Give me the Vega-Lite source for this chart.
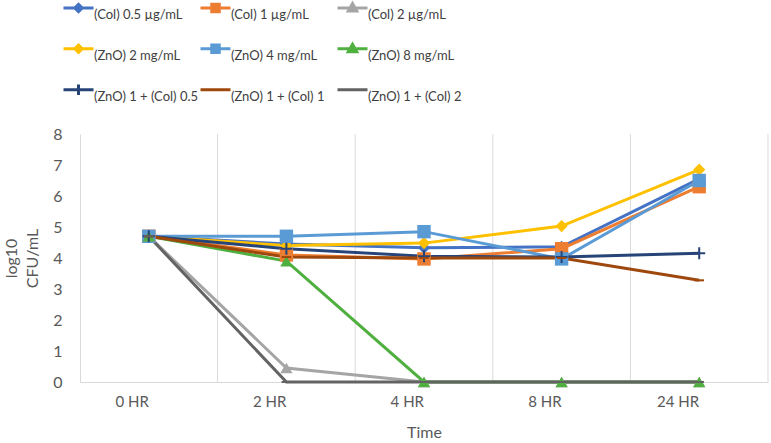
{
  "$schema": "https://vega.github.io/schema/vega-lite/v6.json",
  "width": 688,
  "height": 248,
  "autosize": {"type": "none"},
  "padding": {"left": 80, "top": 134, "right": 3, "bottom": 61},
  "background": "white",
  "config": {"font": "Lato", "view": {"stroke": null}},
  "datasets": {
    "times": [{"time": "0 HR"}, {"time": "2 HR"}, {"time": "4 HR"}, {"time": "8 HR"}, {"time": "24 HR"}],
    "series": [
      {"series": "(Col) 0.5 µg/mL", "time": "0 HR", "value": 4.7},
      {"series": "(Col) 0.5 µg/mL", "time": "2 HR", "value": 4.45},
      {"series": "(Col) 0.5 µg/mL", "time": "4 HR", "value": 4.33},
      {"series": "(Col) 0.5 µg/mL", "time": "8 HR", "value": 4.36},
      {"series": "(Col) 0.5 µg/mL", "time": "24 HR", "value": 6.55},
      {"series": "(Col) 1 µg/mL", "time": "0 HR", "value": 4.7},
      {"series": "(Col) 1 µg/mL", "time": "2 HR", "value": 4.1},
      {"series": "(Col) 1 µg/mL", "time": "4 HR", "value": 3.97},
      {"series": "(Col) 1 µg/mL", "time": "8 HR", "value": 4.3},
      {"series": "(Col) 1 µg/mL", "time": "24 HR", "value": 6.3},
      {"series": "(Col) 2 µg/mL", "time": "0 HR", "value": 4.7},
      {"series": "(Col) 2 µg/mL", "time": "2 HR", "value": 0.45},
      {"series": "(Col) 2 µg/mL", "time": "4 HR", "value": 0},
      {"series": "(Col) 2 µg/mL", "time": "8 HR", "value": 0},
      {"series": "(Col) 2 µg/mL", "time": "24 HR", "value": 0},
      {"series": "(ZnO) 2 mg/mL", "time": "0 HR", "value": 4.7},
      {"series": "(ZnO) 2 mg/mL", "time": "2 HR", "value": 4.4},
      {"series": "(ZnO) 2 mg/mL", "time": "4 HR", "value": 4.48},
      {"series": "(ZnO) 2 mg/mL", "time": "8 HR", "value": 5.03},
      {"series": "(ZnO) 2 mg/mL", "time": "24 HR", "value": 6.85},
      {"series": "(ZnO) 4 mg/mL", "time": "0 HR", "value": 4.7},
      {"series": "(ZnO) 4 mg/mL", "time": "2 HR", "value": 4.7},
      {"series": "(ZnO) 4 mg/mL", "time": "4 HR", "value": 4.85},
      {"series": "(ZnO) 4 mg/mL", "time": "8 HR", "value": 3.97},
      {"series": "(ZnO) 4 mg/mL", "time": "24 HR", "value": 6.5},
      {"series": "(ZnO) 8 mg/mL", "time": "0 HR", "value": 4.7},
      {"series": "(ZnO) 8 mg/mL", "time": "2 HR", "value": 3.9},
      {"series": "(ZnO) 8 mg/mL", "time": "4 HR", "value": 0},
      {"series": "(ZnO) 8 mg/mL", "time": "8 HR", "value": 0},
      {"series": "(ZnO) 8 mg/mL", "time": "24 HR", "value": 0},
      {"series": "(ZnO) 1 + (Col) 0.5", "time": "0 HR", "value": 4.7},
      {"series": "(ZnO) 1 + (Col) 0.5", "time": "2 HR", "value": 4.3},
      {"series": "(ZnO) 1 + (Col) 0.5", "time": "4 HR", "value": 4.06},
      {"series": "(ZnO) 1 + (Col) 0.5", "time": "8 HR", "value": 4.03},
      {"series": "(ZnO) 1 + (Col) 0.5", "time": "24 HR", "value": 4.15},
      {"series": "(ZnO) 1 + (Col) 1", "time": "0 HR", "value": 4.7},
      {"series": "(ZnO) 1 + (Col) 1", "time": "2 HR", "value": 4.03},
      {"series": "(ZnO) 1 + (Col) 1", "time": "4 HR", "value": 4.0},
      {"series": "(ZnO) 1 + (Col) 1", "time": "8 HR", "value": 4.0},
      {"series": "(ZnO) 1 + (Col) 1", "time": "24 HR", "value": 3.28},
      {"series": "(ZnO) 1 + (Col) 2", "time": "0 HR", "value": 4.7},
      {"series": "(ZnO) 1 + (Col) 2", "time": "2 HR", "value": 0},
      {"series": "(ZnO) 1 + (Col) 2", "time": "4 HR", "value": 0},
      {"series": "(ZnO) 1 + (Col) 2", "time": "8 HR", "value": 0},
      {"series": "(ZnO) 1 + (Col) 2", "time": "24 HR", "value": 0}
    ]
  },
  "layer": [
    {
      "data": {"name": "times"},
      "mark": {"type": "rule", "strokeWidth": 1, "color": "#D9D9D9"},
      "encoding": {
        "x": {"field": "time", "type": "ordinal", "bandPosition": 1}
      }
    },
    {
      "data": {"name": "series"},
      "encoding": {
        "x": {
          "field": "time", "type": "ordinal", "bandPosition": 0.5,
          "scale": {"type": "band", "domain": ["0 HR", "2 HR", "4 HR", "8 HR", "24 HR"], "paddingInner": 0, "paddingOuter": 0},
          "axis": {"title": "Time", "labelAngle": 0, "ticks": false, "grid": false, "domainColor": "#D9D9D9", "domainWidth": 1, "labelColor": "#595959", "labelFontSize": 15, "labelPadding": 19, "titleColor": "#595959", "titleFontSize": 16, "titleFontWeight": "normal", "titlePadding": 15}
        },
        "y": {
          "field": "value", "type": "quantitative",
          "scale": {"domain": [0, 8], "nice": false},
          "axis": {"title": ["log10", "CFU/mL"], "values": [0, 1, 2, 3, 4, 5, 6, 7, 8], "labelOverlap": false, "ticks": false, "grid": false, "domainColor": "#D9D9D9", "domainWidth": 1, "labelColor": "#595959", "labelFontSize": 16, "labelPadding": 18, "titleColor": "#595959", "titleFontSize": 16, "titleFontWeight": "normal", "titlePadding": 12, "titleLineHeight": 21}
        },
        "color": {
          "field": "series", "type": "nominal",
          "scale": {
            "domain": ["(Col) 0.5 µg/mL", "(Col) 1 µg/mL", "(Col) 2 µg/mL", "(ZnO) 2 mg/mL", "(ZnO) 4 mg/mL", "(ZnO) 8 mg/mL", "(ZnO) 1 + (Col) 0.5", "(ZnO) 1 + (Col) 1", "(ZnO) 1 + (Col) 2"],
            "range": ["#4472C4", "#ED7D31", "#A5A5A5", "#FFC000", "#5B9BD5", "#4FAF3F", "#264478", "#9E480E", "#636363"]
          },
          "legend": {
            "title": null,
            "orient": "none",
            "legendX": -18,
            "legendY": -136,
            "direction": "horizontal",
            "columns": 3,
            "gridAlign": "all",
            "columnPadding": -8,
            "rowPadding": 15,
            "symbolSize": 900,
            "labelFontSize": 13,
            "labelColor": "#404040",
            "labelOffset": -1,
            "encode": {
              "symbols": {
                "update": {
                  "shape": {"signal": "['M-1,-0.45H1M0,-0.7L0.25,-0.45L0,-0.2L-0.25,-0.45Z', 'M-1,-0.45H1M-0.25,-0.7H0.25V-0.2H-0.25Z', 'M-1,-0.45H1M0,-0.75L0.28,-0.25H-0.28Z', 'M-1,-0.45H1M0,-0.7L0.25,-0.45L0,-0.2L-0.25,-0.45Z', 'M-1,-0.45H1M-0.25,-0.7H0.25V-0.2H-0.25Z', 'M-1,-0.45H1M0,-0.75L0.28,-0.25H-0.28Z', 'M-1,-0.45H1M0,-0.8V-0.1', 'M-1,-0.45H1', 'M-1,-0.45H1'][datum.index]"},
                  "fill": {"scale": "color", "field": "value"},
                  "stroke": {"scale": "color", "field": "value"},
                  "strokeWidth": {"value": 3},
                  "opacity": {"value": 1}
                }
              }
            }
          }
        }
      },
      "layer": [
        {"mark": {"type": "line", "strokeWidth": 3}},
        {
          "transform": [{"filter": {"field": "series", "oneOf": ["(Col) 0.5 µg/mL", "(ZnO) 2 mg/mL"]}}],
          "mark": {"type": "point", "shape": "diamond", "filled": true, "size": 150, "opacity": 1}
        },
        {
          "transform": [{"filter": {"field": "series", "oneOf": ["(Col) 1 µg/mL", "(ZnO) 4 mg/mL"]}}],
          "mark": {"type": "point", "shape": "square", "filled": true, "size": 180, "opacity": 1}
        },
        {
          "transform": [{"filter": {"field": "series", "oneOf": ["(Col) 2 µg/mL", "(ZnO) 8 mg/mL"]}}],
          "mark": {"type": "point", "shape": "triangle-up", "filled": true, "size": 150, "opacity": 1}
        },
        {
          "transform": [{"filter": {"field": "series", "oneOf": ["(ZnO) 1 + (Col) 0.5"]}}],
          "mark": {"type": "point", "shape": "M-1,0H1M0,-1V1", "filled": false, "size": 144, "strokeWidth": 2, "opacity": 1}
        },
        {
          "transform": [{"filter": {"field": "series", "oneOf": ["(ZnO) 1 + (Col) 1", "(ZnO) 1 + (Col) 2"]}}],
          "mark": {"type": "point", "shape": "M-0.8,-0.17H0.8V0.17H-0.8Z", "filled": true, "size": 144, "opacity": 1}
        }
      ]
    }
  ]
}
